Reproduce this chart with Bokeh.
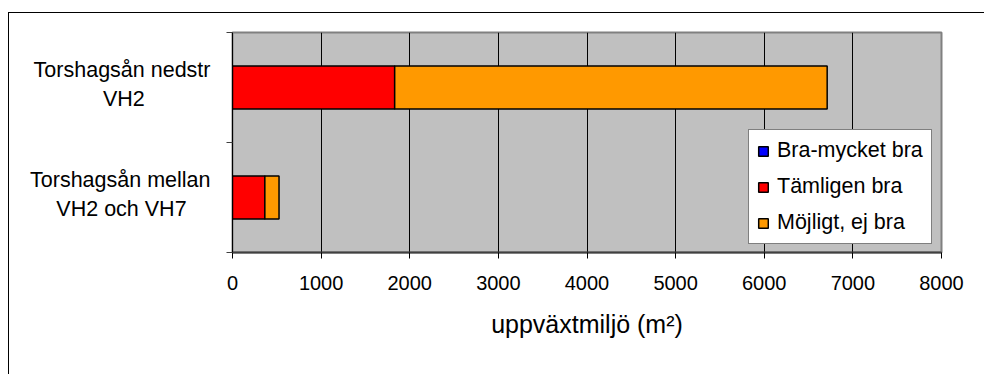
from bokeh.plotting import figure
from bokeh.models import ColumnDataSource, Range1d, FixedTicker, InlineStyleSheet
from bokeh.embed import file_html
from bokeh.resources import INLINE

# Data: stacked areas (m²) per stretch of the stream
categories = [["Torshagsån nedstr", "VH2"], ["Torshagsån mellan", "VH2 och VH7"]]
series_names = ["Bra-mycket bra", "Tämligen bra", "Möjligt, ej bra"]
bra_mycket_bra = [0, 0]
tamligen_bra = [1830, 365]
mojligt_ej_bra = [4880, 160]
series_colors = ["#0000FF", "#FF0000", "#FF9900"]
x_ticks = [0, 1000, 2000, 3000, 4000, 5000, 6000, 7000, 8000]
x_title = "uppväxtmiljö (m²)"

FONT = "Liberation Sans"

# approximate advance widths (em) of the sans font, used to centre
# the lines of a two-line category label under each other
_NARROW = {"i": .222, "j": .222, "l": .222, " ": .278, "t": .278, "r": .333,
           "s": .5, "c": .5, "k": .5, "v": .5, "x": .5, "y": .5,
           "T": .611, "V": .667, "B": .667, "H": .722, "m": .833}


def _width(s):
    return sum(_NARROW.get(ch, .556) for ch in s)


def centred_label(lines):
    wmax = max(_width(s) for s in lines)
    out = []
    for s in lines:
        pad = int(round((wmax - _width(s)) / 2 / .278))
        out.append(s + "\u00a0" * pad)
    return "\n".join(out)


n = len(categories)
ypos = [n - i - 0.5 for i in range(n)]  # first category on top
label_pos = [yv + 0.03 for yv in ypos]
keys = ["s0", "s1", "s2"]

source = ColumnDataSource(dict(
    y=ypos,
    s0=bra_mycket_bra,
    s1=tamligen_bra,
    s2=mojligt_ej_bra,
))

# thin frame around the whole chart, open to the right and bottom
chart_border = InlineStyleSheet(css="""
:host { overflow: hidden; }
:host::after {
  content: "";
  position: absolute;
  left: 8px; top: 12px; right: -6px; bottom: -6px;
  border: 1px solid #000;
  pointer-events: none;
}
""")

p = figure(
    width=984, height=374,
    x_range=Range1d(x_ticks[0], x_ticks[-1]),
    y_range=Range1d(0, n),
    output_backend="svg", toolbar_location=None,
    min_border_left=232, min_border_right=43,
    min_border_top=32, min_border_bottom=122,
    background_fill_color="#C0C0C0", border_fill_color="white",
    outline_line_color="#808080", outline_line_width=2,
    stylesheets=[chart_border],
)

p.hbar_stack(
    keys, y="y", height=0.39, source=source,
    color=series_colors, line_color="black", line_width=1.5,
    legend_label=series_names,
)

# x axis
xa = p.xaxis[0]
xa.ticker = FixedTicker(ticks=x_ticks)
xa.axis_line_color = "#404040"
xa.axis_line_width = 2
xa.major_tick_line_color = "black"
xa.major_tick_out = 6
xa.major_tick_in = 0
xa.minor_tick_line_color = None
xa.major_label_text_font = FONT
xa.major_label_text_font_size = "20px"
xa.major_label_text_color = "black"
xa.major_label_standoff = 17
xa.axis_label = x_title
xa.axis_label_text_font = FONT
xa.axis_label_text_font_size = "25px"
xa.axis_label_text_font_style = "normal"
xa.axis_label_text_color = "black"
xa.axis_label_standoff = 17

# y axis: category names at the bar centres, tick marks at the boundaries
ya = p.yaxis[0]
ya.ticker = FixedTicker(ticks=label_pos, minor_ticks=list(range(n + 1)))
ya.major_label_overrides = {yv: centred_label(cat) for yv, cat in zip(label_pos, categories)}
ya.axis_line_color = "black"
ya.major_tick_line_color = None
ya.major_tick_out = 0
ya.major_tick_in = 0
ya.minor_tick_line_color = "#404040"
ya.minor_tick_out = 6
ya.minor_tick_in = 0
ya.major_label_standoff = 16
ya.major_label_text_font = FONT
ya.major_label_text_font_size = "21.5px"
ya.major_label_text_color = "black"
ya.major_label_text_line_height = 1.2

# grid
p.xgrid.ticker = FixedTicker(ticks=x_ticks[1:-1])
p.xgrid.grid_line_color = "black"
p.xgrid.grid_line_width = 1
p.ygrid.visible = False

# legend
lg = p.legend[0]
lg.location = (516, 8)
lg.border_line_color = "black"
lg.border_line_width = 1
lg.background_fill_color = "white"
lg.background_fill_alpha = 1
lg.label_text_font = FONT
lg.label_text_font_size = "21.5px"
lg.label_text_color = "black"
lg.glyph_width = 12
lg.glyph_height = 12
lg.label_standoff = 8
lg.padding = 8
lg.spacing = 11
lg.margin = 0

open("out.html", "w").write(file_html(p, INLINE))
